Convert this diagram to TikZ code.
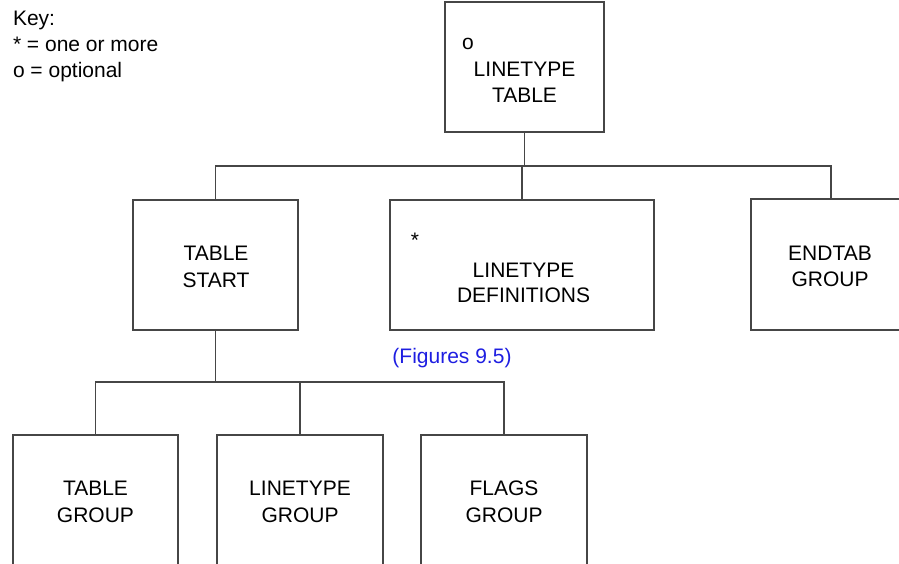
\documentclass[tikz,border=0pt]{standalone}
\usepackage{fontspec}
\setmainfont{Liberation Sans}
\definecolor{linecol}{RGB}{70,70,70}
\definecolor{figblue}{RGB}{30,30,225}
\begin{document}
\begin{tikzpicture}[x=1pt,y=-1pt,
  box/.style={draw=linecol,line width=1.1pt,inner sep=0pt,outer sep=0pt,rectangle},
  conn/.style={draw=linecol,line width=1.1pt},
  txt/.style={anchor=base,inner sep=0pt,outer sep=0pt,font=\fontsize{21}{26}\selectfont},
  keytxt/.style={anchor=base west,inner sep=0pt,outer sep=0pt,font=\fontsize{21}{26}\selectfont}]
\clip (0,0) rectangle (899,563);
\useasboundingbox (0,0) rectangle (899,563);
% key
\node[keytxt] (k1) at (13,25) {Key:};
\node[keytxt] (k2) at (13,51) {* = one or more};
\node[keytxt] (k3) at (13,77) {o = optional};
% boxes
\node[box,minimum width=159pt,minimum height=130pt] (top) at (524.5,67) {};
\node[box,minimum width=165pt,minimum height=130pt] (ts) at (215.5,265) {};
\node[box,minimum width=264pt,minimum height=130pt] (ld) at (522,265) {};
\node[box,minimum width=160pt,minimum height=131pt] (et) at (831,264.5) {};
\node[box,minimum width=165pt,minimum height=170pt] (tg) at (95.5,520) {};
\node[box,minimum width=166pt,minimum height=170pt] (lg) at (300,520) {};
\node[box,minimum width=166pt,minimum height=170pt] (fg) at (504,520) {};
% connectors
\coordinate (bus1) at (524.5,166);
\coordinate (bus2) at (215.5,382);
\draw[conn] (top.south) -- (bus1);
\draw[conn] (ts.north) -- (ts.north |- bus1) -- (et.north |- bus1) -- (et.north);
\draw[conn] (ld.north) -- (ld.north |- bus1);
\draw[conn] (ts.south) -- (bus2);
\draw[conn] (tg.north) -- (tg.north |- bus2) -- (fg.north |- bus2) -- (fg.north);
\draw[conn] (lg.north) -- (lg.north |- bus2);
% texts
\node[txt] (topo) at (468,49) {o};
\node[txt] (top1) at (524.5,76) {LINETYPE};
\node[txt] (top2) at (524.5,102) {TABLE};
\node[txt] (ts1) at (216,260) {TABLE};
\node[txt] (ts2) at (216,287) {START};
\node[txt] (lds) at (415,247) {*};
\node[txt] (ld1) at (523.5,277) {LINETYPE};
\node[txt] (ld2) at (523.5,302) {DEFINITIONS};
\node[txt] (et1) at (830,260) {ENDTAB};
\node[txt] (et2) at (830,286) {GROUP};
\node[txt,text=figblue] (fig) at (452,363) {(Figures 9.5)};
\node[txt] (tg1) at (95.5,495) {TABLE};
\node[txt] (tg2) at (95.5,522) {GROUP};
\node[txt] (lg1) at (300,495) {LINETYPE};
\node[txt] (lg2) at (300,522) {GROUP};
\node[txt] (fg1) at (504,495) {FLAGS};
\node[txt] (fg2) at (504,522) {GROUP};
\end{tikzpicture}
\end{document}
